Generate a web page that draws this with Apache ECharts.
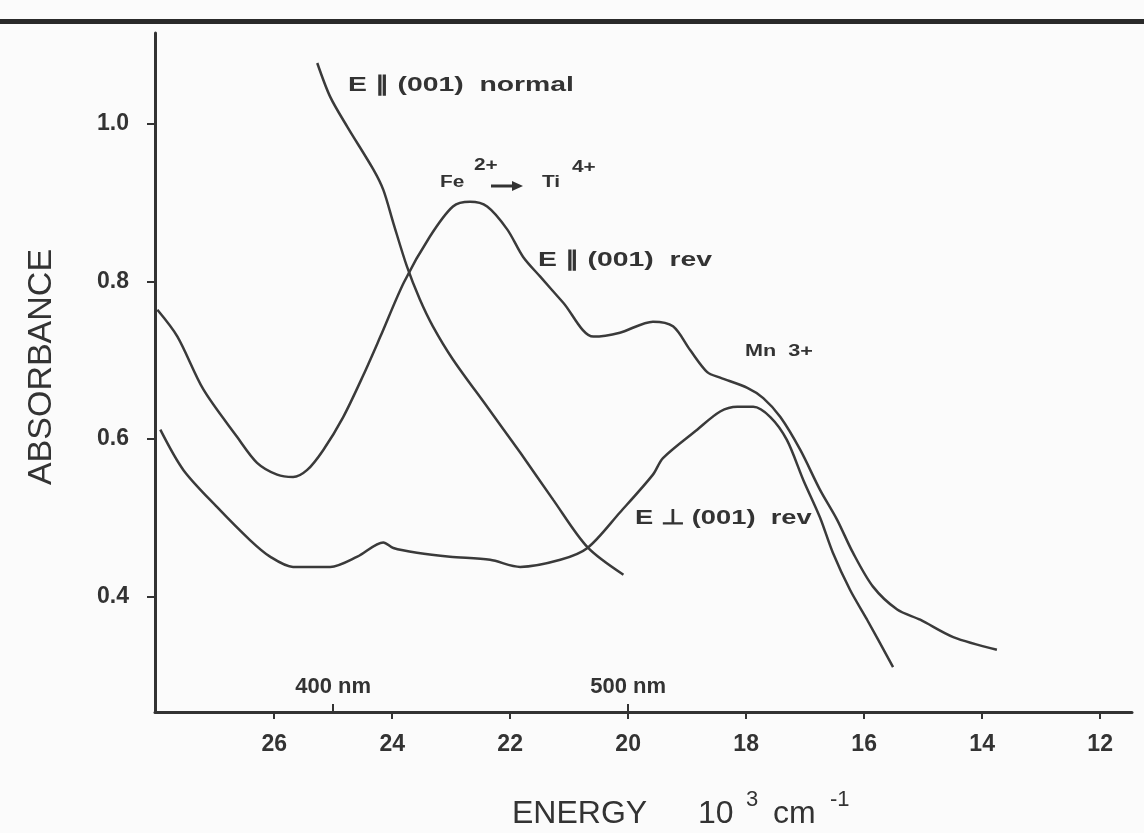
<!DOCTYPE html>
<html>
<head>
<meta charset="utf-8">
<title>Absorbance spectra</title>
<script src="https://cdn.jsdelivr.net/npm/echarts@6.0.0/dist/echarts.min.js"></script>
<style>
  html, body { margin: 0; padding: 0; background: #fbfbfb; }
  #main { width: 1144px; height: 833px; }
</style>
</head>
<body>
<div id="main"></div>
<script>
// 数据 (energy in 10^3 cm^-1, absorbance)
var normalEnergy = [25.27, 25.05, 24.76, 24.32, 24.15, 23.98, 23.75, 23.53, 23.31, 22.97, 22.39, 21.83, 21.27, 20.69, 20.08];
var normalAbs    = [1.077, 1.034, 0.996, 0.942, 0.916, 0.874, 0.819, 0.777, 0.743, 0.701, 0.641, 0.583, 0.523, 0.463, 0.428];

var revParEnergy = [27.98, 27.64, 27.20, 26.63, 26.29, 25.95, 25.68, 25.44, 25.17, 24.83, 24.49, 24.20, 23.80, 23.36, 22.97, 22.68, 22.39, 22.05, 21.78, 21.49, 21.10, 20.59, 20.14, 19.58, 19.24, 18.95, 18.66, 18.44, 17.98, 17.71, 17.42, 17.08, 16.75, 16.46, 16.19, 15.85, 15.44, 15.05, 14.49, 13.75];
var revParAbs    = [0.764, 0.730, 0.663, 0.603, 0.570, 0.555, 0.552, 0.561, 0.586, 0.628, 0.681, 0.730, 0.799, 0.857, 0.895, 0.901, 0.895, 0.866, 0.831, 0.806, 0.773, 0.730, 0.735, 0.749, 0.743, 0.713, 0.685, 0.678, 0.665, 0.652, 0.628, 0.586, 0.536, 0.498, 0.456, 0.413, 0.384, 0.371, 0.349, 0.333];

var revPerpEnergy = [27.93, 27.54, 26.97, 26.41, 26.07, 25.68, 25.05, 24.59, 24.15, 23.98, 23.58, 23.02, 22.34, 21.83, 21.15, 20.69, 20.14, 19.58, 19.41, 18.83, 18.44, 18.15, 17.88, 17.59, 17.31, 17.03, 16.75, 16.53, 16.24, 15.95, 15.51];
var revPerpAbs    = [0.612, 0.561, 0.514, 0.472, 0.451, 0.438, 0.438, 0.451, 0.469, 0.462, 0.456, 0.451, 0.447, 0.438, 0.447, 0.462, 0.507, 0.555, 0.576, 0.612, 0.635, 0.641, 0.641, 0.628, 0.599, 0.548, 0.501, 0.456, 0.409, 0.371, 0.311];

var energyTicks = [26, 24, 22, 20, 18, 16, 14, 12];
var absTicks = [0.4, 0.6, 0.8, 1.0];
var nmTicks = [25, 20];
var nmLabels = { 25: '400 nm', 20: '500 nm' };

function pairs(xs, ys) {
    return xs.map(function (x, i) { return [x, ys[i]]; });
}

var ink = '#333333';
var labelFont = '"Liberation Sans", Arial, sans-serif';

function note(text, x, y, size, sx) {
    return {
        type: 'text', x: x, y: y, scaleX: sx || 1.3, silent: true,
        style: {
            text: text, fill: ink, font: 'bold ' + size + 'px ' + labelFont,
            align: 'left', textAlign: 'left', verticalAlign: 'middle', textVerticalAlign: 'middle'
        }
    };
}

function title(text, x, y, size) {
    return {
        type: 'text', x: x, y: y, silent: true,
        style: {
            text: text, fill: ink, font: size + 'px ' + labelFont,
            align: 'left', textAlign: 'left', verticalAlign: 'middle', textVerticalAlign: 'middle'
        }
    };
}

var myChart = echarts.init(document.getElementById('main'));

var lineStyle = { color: '#3a3a3a', width: 2.5 };

var option = {
    backgroundColor: '#fbfbfb',
    animation: false,
    grid: { left: 155, right: 12, top: 33, bottom: 121, containLabel: false, outerBoundsMode: 'none' },
    xAxis: [{
        type: 'value',
        min: 11.46,
        max: 28.02,
        inverse: true,
        position: 'bottom',
        splitLine: { show: false },
        axisLine: { lineStyle: { color: '#333', width: 3 } },
        axisTick: { customValues: energyTicks, length: 7, lineStyle: { color: '#333', width: 2 } },
        axisLabel: {
            customValues: energyTicks, margin: 21, color: ink,
            fontSize: 23, fontWeight: 'bold', fontFamily: labelFont
        }
    }, {
        // 400 nm / 500 nm marks
        type: 'value',
        min: 11.46,
        max: 28.02,
        inverse: true,
        position: 'bottom',
        splitLine: { show: false },
        axisLine: { show: false },
        axisTick: { inside: true, customValues: nmTicks, length: 8, lineStyle: { color: '#333', width: 2 } },
        axisLabel: {
            inside: true, customValues: nmTicks, margin: 14, color: ink,
            fontSize: 22, fontWeight: 'bold', fontFamily: labelFont,
            formatter: function (v) { return nmLabels[Math.round(v)] || ''; }
        }
    }],
    yAxis: {
        type: 'value',
        min: 0.254,
        max: 1.115,
        splitLine: { show: false },
        axisLine: { show: true, lineStyle: { color: '#333', width: 3 } },
        axisTick: { show: true, customValues: absTicks, length: 8, lineStyle: { color: '#333', width: 2 } },
        axisLabel: {
            customValues: absTicks, margin: 26, color: ink,
            fontSize: 23, fontWeight: 'bold', fontFamily: labelFont,
            formatter: function (v) { return v.toFixed(1); }
        }
    },
    series: [
        { name: 'E∥ (001) normal', type: 'line', smooth: 0.3, showSymbol: false, lineStyle: lineStyle, data: pairs(normalEnergy, normalAbs) },
        { name: 'E∥ (001) rev', type: 'line', smooth: 0.3, showSymbol: false, lineStyle: lineStyle, data: pairs(revParEnergy, revParAbs) },
        { name: 'E⊥ (001) rev', type: 'line', smooth: 0.3, showSymbol: false, lineStyle: lineStyle, data: pairs(revPerpEnergy, revPerpAbs) }
    ],
    graphic: [
        { type: 'rect', silent: true, shape: { x: 0, y: 19, width: 1144, height: 5 }, style: { fill: '#2a2a2a' } },
        {
            type: 'text', x: 42, y: 367, rotation: Math.PI / 2, silent: true,
            style: {
                text: 'ABSORBANCE', fill: ink, font: '34px ' + labelFont,
                align: 'center', textAlign: 'center', verticalAlign: 'middle', textVerticalAlign: 'middle'
            }
        },
        title('ENERGY', 512, 814, 32),
        title('10', 698, 814, 32),
        title('3', 746, 800, 22),
        title('cm', 773, 814, 32),
        title('-1', 830, 800, 22),
        note('E ∥ (001)  normal', 348, 85, 21, 1.35),
        note('E ∥ (001)  rev', 538, 260, 21, 1.35),
        note('E ⊥ (001)  rev', 635, 518, 21, 1.3),
        note('Fe', 440, 183, 16, 1.3),
        note('2+', 474, 166, 16, 1.3),
        // arrow Fe -> Ti
        { type: 'line', silent: true, shape: { x1: 491, y1: 186, x2: 514, y2: 186 }, style: { stroke: ink, lineWidth: 3 } },
        { type: 'polygon', silent: true, shape: { points: [[512, 181], [523, 186], [512, 191]] }, style: { fill: ink } },
        note('Ti', 542, 183, 16, 1.3),
        note('4+', 572, 168, 16, 1.3),
        note('Mn  3+', 745, 352, 16, 1.35)
    ]
};

myChart.setOption(option);
</script>
</body>
</html>
